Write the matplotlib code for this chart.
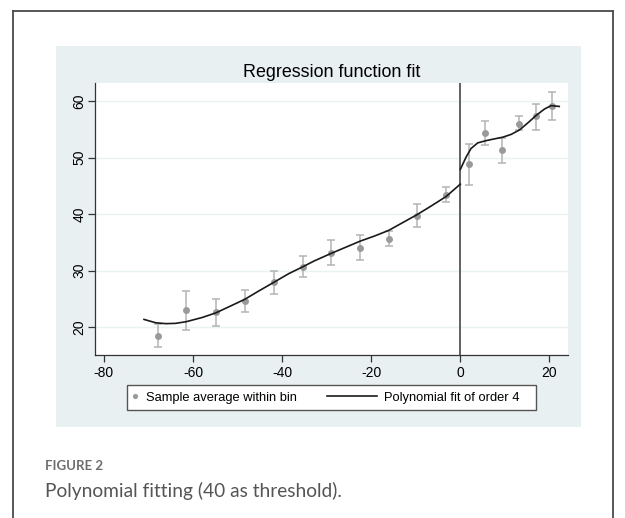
import matplotlib
matplotlib.use('Agg')
import matplotlib.pyplot as plt
from matplotlib.patches import Rectangle
from matplotlib.lines import Line2D
from matplotlib.legend_handler import HandlerLine2D

plt.rcParams['font.family'] = ['Liberation Sans', 'DejaVu Sans']

# binned sample averages with confidence bars
bin_x = [-67.9, -61.5, -54.9, -48.4, -41.9, -35.4, -29.1, -22.5, -16.1, -9.7, -3.2,
         2.0, 5.6, 9.4, 13.1, 17.0, 20.6]
bin_y = [18.5, 23.0, 22.7, 24.6, 27.9, 30.65, 33.1, 34.0, 35.6, 39.7, 43.45,
         48.8, 54.4, 51.3, 56.0, 57.3, 59.2]
bin_lo = [16.5, 19.5, 20.2, 22.7, 25.8, 28.9, 30.9, 31.8, 34.3, 37.65, 42.1,
          45.1, 52.2, 49.0, 54.8, 54.9, 56.7]
bin_hi = [20.5, 26.4, 24.95, 26.5, 29.95, 32.5, 35.4, 36.25, 36.95, 41.85, 44.8,
          52.45, 56.4, 53.5, 57.3, 59.4, 61.6]

fit_left_x = [-71.0, -68.4, -66.1, -63.9, -61.5, -57.9, -54.9, -51.9, -48.4, -45.2,
              -41.9, -38.4, -35.4, -32.8, -29.1, -22.5, -19.3, -16.1, -9.7, -6.6, -3.2, 0.0]
fit_left_y = [21.35, 20.76, 20.6, 20.65, 20.95, 21.7, 22.5, 23.6, 24.9, 26.4,
              27.9, 29.5, 30.65, 31.7, 33.0, 35.2, 36.1, 37.1, 39.9, 41.4, 43.1, 45.3]
fit_right_x = [0.0, 1.3, 2.4, 3.9, 5.8, 7.6, 9.5, 11.4, 13.3, 15.1, 17.0, 18.9, 20.4, 22.2]
fit_right_y = [47.9, 50.1, 51.6, 52.6, 53.0, 53.3, 53.6, 54.1, 54.9, 56.1, 57.45, 58.6, 59.2, 59.05]

xticks = [-80, -60, -40, -20, 0, 20]
yticks = [20, 30, 40, 50, 60]


class LongLine(HandlerLine2D):
    # legend line that reaches further left than the (short) handle box
    extra = 32.0

    def create_artists(self, legend, orig_handle, xdescent, ydescent, width, height, fontsize, trans):
        y = height / 2 - ydescent
        line = Line2D([-xdescent - self.extra, -xdescent + width], [y, y])
        self.update_prop(line, orig_handle, legend)
        line.set_transform(trans)
        return [line]


W, H = 625, 518
fig = plt.figure(figsize=(W / 100, H / 100), dpi=100)
fig.patch.set_facecolor('white')

# outer frame of the figure box
frame = '#4a4a4a'
fig.add_artist(Line2D([12.5 / W, 12.5 / W], [0, 1 - 10.5 / H], color=frame, lw=1.3, transform=fig.transFigure))
fig.add_artist(Line2D([612.5 / W, 612.5 / W], [0, 1 - 10.5 / H], color=frame, lw=1.3, transform=fig.transFigure))
fig.add_artist(Line2D([12.5 / W, 612.5 / W], [1 - 10.5 / H, 1 - 10.5 / H], color=frame, lw=1.3, transform=fig.transFigure))

# stata graph region, behind the axes
fig.add_artist(Rectangle((55.7 / W, 1 - 427 / H), 525.3 / W, 381 / H,
                         transform=fig.transFigure, facecolor='#e9f0f2', edgecolor='none', zorder=-1))
# legend box
fig.add_artist(Rectangle((127 / W, 1 - 410 / H), 409 / W, 25 / H,
                         transform=fig.transFigure, facecolor='white', edgecolor='#555555', lw=1.0, zorder=1))

ax = fig.add_axes([95 / W, 1 - 355 / H, 472.7 / W, 272 / H])
ax.set_zorder(2)
ax.set_facecolor('white')
ax.set_xlim(-82, 24.1)
ax.set_ylim(15.05, 63.2)

ax.set_yticks(yticks)
ax.set_xticks(xticks)
ax.set_xticklabels([str(t) for t in xticks])
ax.set_yticklabels([str(t) for t in yticks], rotation=90, va='center')
ax.tick_params(axis='both', labelsize=10, length=5, width=0.9, color='#333333')
ax.tick_params(axis='x', pad=3)
ax.tick_params(axis='y', pad=1)
ax.grid(axis='y', color='#eaf2f3', lw=1.0)
ax.set_axisbelow(True)

for s in ['top', 'right']:
    ax.spines[s].set_visible(False)
for s in ['left', 'bottom']:
    ax.spines[s].set_color('#333333')
    ax.spines[s].set_linewidth(0.9)

ax.axvline(0, color='#555555', lw=1.3, zorder=2)

yerr = [[y - lo for y, lo in zip(bin_y, bin_lo)], [hi - y for y, hi in zip(bin_y, bin_hi)]]
ax.errorbar(bin_x, bin_y, yerr=yerr, fmt='none', ecolor='#b4b4b4', elinewidth=1.1,
            capsize=3.2, capthick=1.1, zorder=3)
pts, = ax.plot(bin_x, bin_y, 'o', color='#9a9a9a', markersize=5, markeredgewidth=0, zorder=4,
               label='Sample average within bin')
fit, = ax.plot(fit_left_x, fit_left_y, color='#1a1a1a', lw=1.2, zorder=5, label='Polynomial fit of order 4')
ax.plot(fit_right_x, fit_right_y, color='#1a1a1a', lw=1.2, zorder=5)

ax.set_title('Regression function fit', fontsize=12.9, pad=4)

leg = ax.legend(handles=[pts, fit], loc='center left', bbox_to_anchor=(126 / W, 1 - 397.5 / H),
                bbox_transform=fig.transFigure, ncol=2, fontsize=9.3, frameon=False,
                handlelength=0.47, handletextpad=0.54, columnspacing=5.8, borderpad=0,
                markerscale=0.75, handler_map={fit: LongLine()})

# caption below the chart
fig.text(45 / W, 1 - 466 / H, 'FIGURE 2', fontsize=9.5, color='#6d6d6d', fontweight='bold',
         family=['Lato', 'DejaVu Sans'], va='center', ha='left')
fig.text(45 / W, 1 - 491 / H, 'Polynomial fitting (40 as threshold).', fontsize=13.8, color='#555555',
         family=['Lato', 'DejaVu Sans'], va='center', ha='left')

plt.savefig('out.png', dpi=100)
plt.close()
